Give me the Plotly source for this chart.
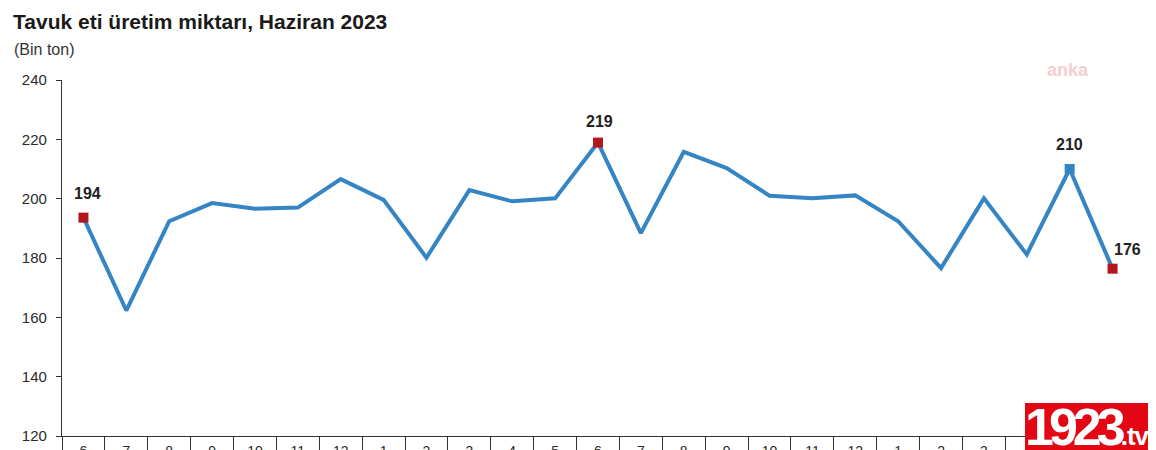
import plotly.graph_objects as go

# Data (June 2021 - June 2023), thousand tonnes
periods = ["2021-06", "2021-07", "2021-08", "2021-09", "2021-10", "2021-11", "2021-12",
           "2022-01", "2022-02", "2022-03", "2022-04", "2022-05", "2022-06", "2022-07",
           "2022-08", "2022-09", "2022-10", "2022-11", "2022-12", "2023-01", "2023-02",
           "2023-03", "2023-04", "2023-05", "2023-06"]
month_labels = ["6", "7", "8", "9", "10", "11", "12", "1", "2", "3", "4", "5", "6", "7",
                "8", "9", "10", "11", "12", "1", "2", "3", "4", "5", "6"]
production = [193.6, 162.3, 192.4, 198.5, 196.6, 197.0, 206.6, 199.6, 180.1, 202.9,
              199.1, 200.1, 218.9, 188.4, 215.8, 210.3, 201.0, 200.1, 201.1, 192.4,
              176.6, 200.1, 181.2, 210.0, 176.4]
highlight_idx = [0, 12, 23, 24]
highlight_colors = ["#B3161D", "#B3161D", "#3585C5", "#B3161D"]
label_shift = {0: (4, 24), 12: (1, 21), 23: (0, 25), 24: (15, 19)}

LINE = "#3585C5"
FONT = "Liberation Sans, Arial, sans-serif"

# plot-area geometry (figure pixels)
PW, PH = 1072, 356
ML, MT = 54, 72

def px(x):
    return (x - ML) / PW

def py(y):
    return (MT + PH - y) / PH

fig = go.Figure()
fig.add_trace(go.Scatter(
    x=periods, y=production, mode="lines",
    line=dict(color=LINE, width=4), hoverinfo="skip", showlegend=False))
fig.add_trace(go.Scatter(
    x=[periods[i] for i in highlight_idx], y=[production[i] for i in highlight_idx],
    mode="markers", marker=dict(symbol="square", size=10, color=highlight_colors),
    showlegend=False, hoverinfo="skip"))

for i in highlight_idx:
    dx, dy = label_shift[i]
    fig.add_annotation(x=periods[i], y=production[i], text=f"<b>{round(production[i])}</b>",
                       showarrow=False, xshift=dx, yshift=dy,
                       font=dict(family=FONT, size=16, color="#222222"))

# Title and unit
fig.add_annotation(xref="paper", yref="paper", x=px(3), y=py(14), xanchor="left",
                   yanchor="middle", showarrow=False,
                   text="<b>Tavuk eti üretim miktarı, Haziran 2023</b>",
                   font=dict(family=FONT, size=21, color="#1a1a1a"))
fig.add_annotation(xref="paper", yref="paper", x=px(4), y=py(42), xanchor="left",
                   yanchor="middle", showarrow=False, text="(Bin ton)",
                   font=dict(family=FONT, size=16, color="#333333"))

# Watermark
fig.add_annotation(xref="paper", yref="paper", x=px(1060), y=py(62),
                   xanchor="center", yanchor="middle", showarrow=False, text="<b>anka</b>",
                   font=dict(family=FONT, size=18, color="#F6CDD2"))

# 1923.tv logo
fig.add_shape(type="rect", xref="paper", yref="paper",
              x0=px(1017), x1=px(1150), y0=py(450), y1=py(395),
              fillcolor="#E30613", line=dict(width=0), layer="above")
fig.add_annotation(xref="paper", yref="paper", x=px(1015), y=py(388),
                   xanchor="left", yanchor="top", showarrow=False,
                   text="<b><span style='font-size:52px;letter-spacing:-5px'>1923</span>"
                        "<span style='font-size:26px;letter-spacing:-1px'>.tv</span></b>",
                   font=dict(family=FONT, color="white"))

fig.update_layout(
    width=1148, height=442,
    margin=dict(l=ML, r=1148 - ML - PW, t=MT, b=442 - MT - PH),
    paper_bgcolor="white", plot_bgcolor="white",
    font=dict(family=FONT, size=14, color="#333333"),
    xaxis=dict(type="category", tickmode="array", tickvals=periods, ticktext=month_labels,
               tickson="boundaries", ticks="outside", ticklen=16, tickcolor="#333333",
               showline=True, linecolor="#333333", linewidth=1.2, showgrid=False,
               zeroline=False, automargin=False, range=[-0.5, 24.5],
               tickfont=dict(size=14, color="#2a2a2a"), ticklabelstandoff=2),
    yaxis=dict(range=[120, 240], tickvals=[120, 140, 160, 180, 200, 220, 240],
               ticks="outside", ticklen=5, tickcolor="#333333",
               showline=True, linecolor="#333333", linewidth=1.2, showgrid=False,
               zeroline=False, automargin=False, ticklabelstandoff=6,
               tickfont=dict(size=15, color="#2a2a2a")),
)

fig.write_html("out.html")
